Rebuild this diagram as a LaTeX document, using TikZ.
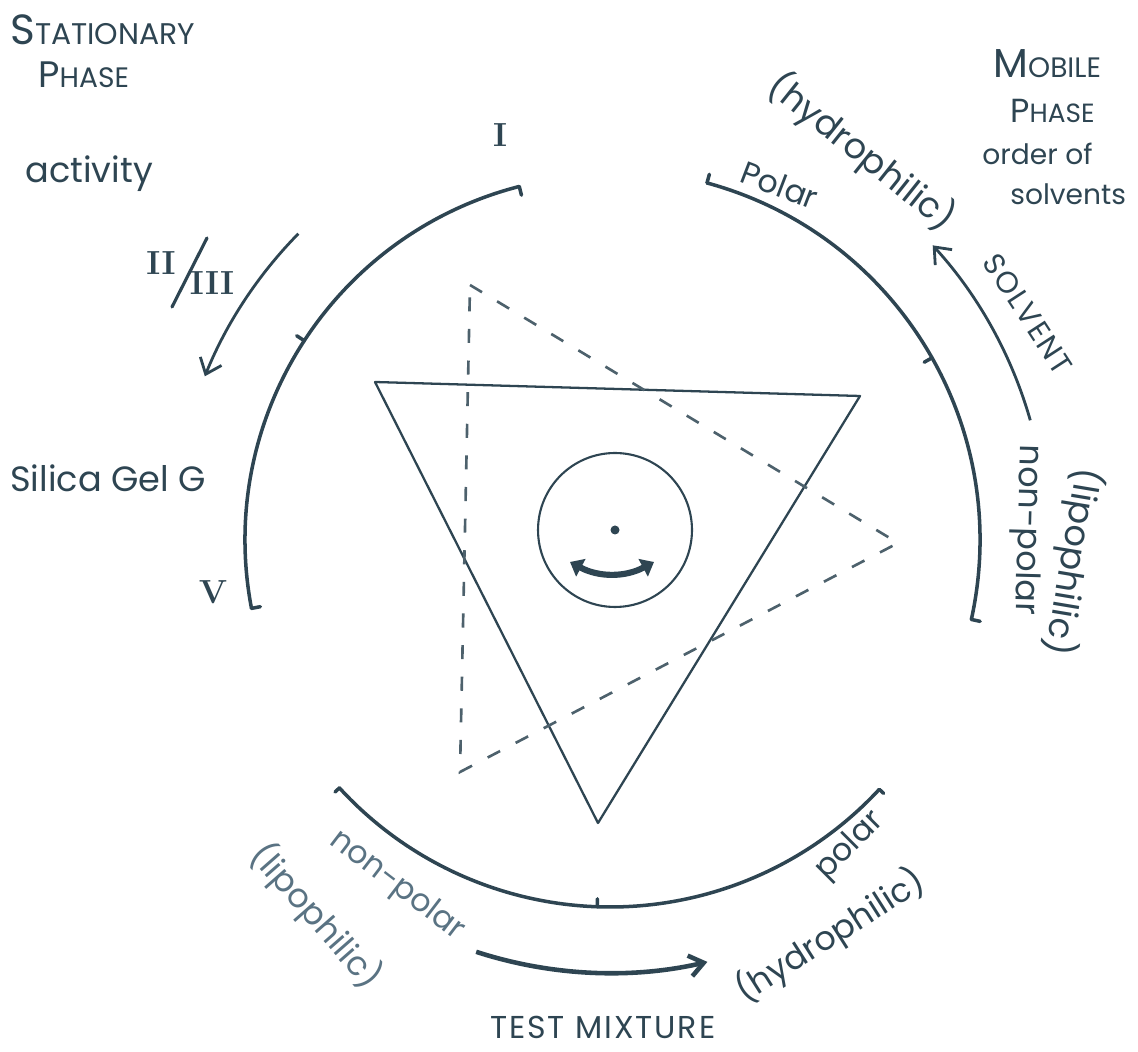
\documentclass[tikz,border=0pt]{standalone}
\usepackage{fontspec}
\newfontfamily\hand{Poppins}
\newfontfamily\handsp[LetterSpace=6]{Poppins}
\usetikzlibrary{arrows.meta,calc}
\definecolor{ink}{HTML}{2E4552}
\definecolor{inkl}{HTML}{5A7383}
\newcommand{\hsz}[1]{\fontsize{#1}{#1}\selectfont}
\begin{document}
\begin{tikzpicture}[x=0.02cm,y=0.02cm,
  lab/.style={font=\hand, text=ink, inner sep=0pt},
  num/.style={font=\bfseries\hsz{19pt}, text=ink, inner sep=0pt},
  arcline/.style={draw=ink, line width=2pt, line cap=round},
  tick/.style={draw=ink, line width=2pt, line cap=round},
  tri/.style={draw=ink, line width=1.3pt, line join=round},
  dtri/.style={draw=ink!85, line width=1.5pt, dash pattern=on 8pt off 10pt},
  thinarrow/.style={draw=ink, line width=1.6pt, -{Straight Barb[length=8pt,width=13pt]}},
  thickarrow/.style={draw=ink, line width=2.6pt, -{Straight Barb[length=8pt,width=12pt]}}
]
\useasboundingbox (0,0) rectangle (1138,1051);
\coordinate (C) at (610,511);

% outer arcs
\draw[arcline] ([shift={(104.4:365)}]C) arc[start angle=104.4, end angle=190.8, radius=365];
\draw[arcline] ([shift={(74.8:370)}]C) arc[start angle=74.8, end angle=-12.4, radius=370];
\draw[arcline] ([shift={(222.5:367)}]C) arc[start angle=222.5, end angle=317.2, radius=367];
% ticks
\draw[tick] ([shift={(104.4:365)}]C) -- ([shift={(104.4:356)}]C);
\draw[tick] ([shift={(190.8:365)}]C) -- ([shift={(190.8:356)}]C);
\draw[tick] ([shift={(146.9:365)}]C) -- ([shift={(146.9:374)}]C);
\draw[tick] ([shift={(74.8:370)}]C) -- ([shift={(74.8:379)}]C);
\draw[tick] ([shift={(-12.4:370)}]C) -- ([shift={(-12.4:379)}]C);
\draw[tick] ([shift={(29.5:370)}]C) -- ([shift={(29.5:361)}]C);
\draw[tick] ([shift={(222.5:367)}]C) -- ([shift={(222.5:373)}]C);
\draw[tick] ([shift={(317.2:367)}]C) -- ([shift={(317.2:373)}]C);
\draw[tick] ([shift={(268:367)}]C) -- ([shift={(268:359)}]C);

% direction arrows
\draw[thinarrow] ([shift={(135.5:437)}]C) arc[start angle=135.5, end angle=158, radius=437];
\draw[thinarrow] ([shift={(15.9:437)}]C) arc[start angle=15.9, end angle=42.4, radius=437];
\draw[thickarrow] ([shift={(252:433)}]C) arc[start angle=252, end angle=283, radius=433];

% triangles
\coordinate (s1) at (375,669);
\coordinate (s2) at (860,655);
\coordinate (s3) at (598,228);
\draw[tri] (s1) -- (s2) -- (s3) -- cycle;
\coordinate (d1) at (470,766);
\coordinate (d2) at (898,508);
\coordinate (d3) at (460,279);
\draw[dtri] (d1) -- (d2) -- (d3) -- cycle;

% hub
\node[circle, draw=ink, line width=1.2pt, minimum size=3.08cm, inner sep=0pt] (hub) at (615,521) {};
\fill[ink] (hub.center) circle[radius=4.5];
\coordinate (ra) at (570,489);
\coordinate (rb) at (654,489);
\draw[ink, line width=3.5pt, {Triangle[length=7pt,width=11pt]}-{Triangle[length=7pt,width=11pt]}] (ra) to[bend right=28] (rb);

% numerals
\node[num] (n1) at (500,916) {I};
\node[num] (n2) at (161,788) {II};
\node[num] (n3) at (212,768) {III};
\draw[ink, line width=1.8pt, line cap=round] (172,744) -- (207,813);
\node[num] (n5) at (213,459) {V};

% left texts
\node[lab, anchor=base west] (stat) at (10,1006) {\hsz{24pt}S\hsz{17pt}TATIONARY};
\node[lab, anchor=base west] (sphase) at (38,963) {\hsz{21pt}P\hsz{16pt}HASE};
\node[lab, anchor=base west] (act) at (25,868) {\hsz{20pt}activity};
\node[lab, anchor=base west] (silica) at (10,559) {\hsz{20pt}Silica Gel G};

% right texts
\node[lab, anchor=base west] (mob) at (993,973) {\hsz{23pt}M\hsz{16pt}OBILE};
\node[lab, anchor=base west] (mphase) at (1010,928) {\hsz{19pt}P\hsz{15pt}HASE};
\node[lab, anchor=base west] (order) at (982,886) {\hsz{16pt}order of};
\node[lab, anchor=base west] (solv) at (1010,846) {\hsz{16pt}solvents};

% rotated labels
\node[lab, rotate=-38.6] (hyd1) at (862,899) {\hsz{20pt}(hydrophilic)};
\node[lab, rotate=-21] (pol1) at (780,866) {\hsz{18pt}Polar};
\node[lab, rotate=-57, font=\handsp] (solvent) at (1028,737) {\hsz{17pt}SOLVENT};
\node[lab, rotate=-91.5] (np1) at (1026,521) {\hsz{19pt}non-polar};
\node[lab, rotate=-99.5] (lip1) at (1073,489) {\hsz{20pt}(lipophilic)};
\node[lab, text=inkl, rotate=-37.4] (np2) at (397,165) {\hsz{18pt}non-polar};
\node[lab, text=inkl, rotate=-48.7] (lip2) at (316,135) {\hsz{19pt}(lipophilic)};
\node[lab, rotate=45] (pol2) at (850,205) {\hsz{18pt}polar};
\node[lab, rotate=32.5] (hyd2) at (830,115) {\hsz{19pt}(hydrophilic)};
\node[lab, anchor=base west, font=\handsp] (test) at (490,13) {\hsz{18pt}TEST MIXTURE};
\end{tikzpicture}
\end{document}
